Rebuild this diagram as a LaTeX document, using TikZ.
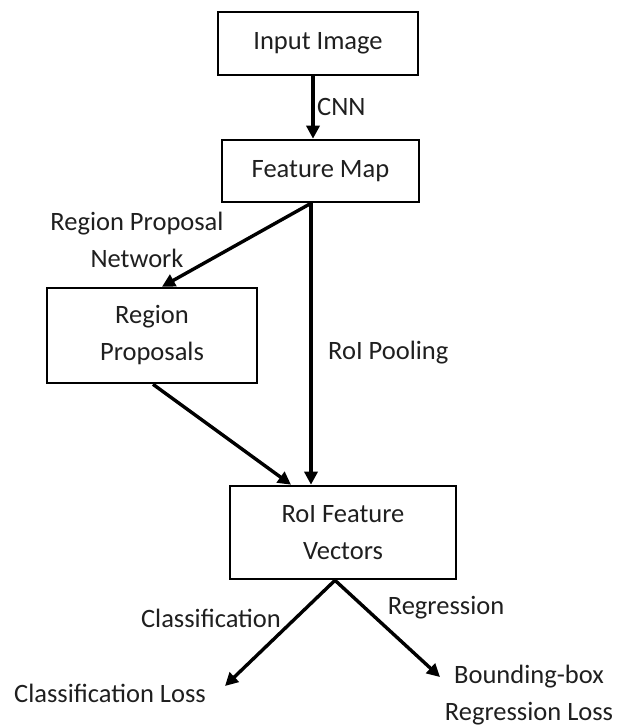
\documentclass[tikz,border=0pt]{standalone}
\usepackage{fontspec}
\setmainfont{Carlito}
\usetikzlibrary{arrows.meta}
\begin{document}
\begin{tikzpicture}[x=1pt,y=-1pt,
  box/.style={draw=black,line width=2.6pt,minimum width=#1,inner sep=0pt,align=center,font=\fontsize{26.5}{37}\selectfont,text=black!88},
  lbl/.style={inner sep=0pt,align=center,font=\fontsize{26.5}{37}\selectfont,text=black!88},
  arr/.style={line width=3.4pt,-{Triangle[length=13pt,width=13pt]}}]
\useasboundingbox (0,0) rectangle (617,726);
% boxes
\node[box=200pt,minimum height=63pt] (in) at (318,43.5) {Input Image};
\node[box=197pt,minimum height=62pt] (fm) at (320.5,171) {Feature Map};
\node[box=210pt,minimum height=95pt] (rp) at (152,335.5) {Region\\Proposals};
\node[box=226pt,minimum height=93pt] (roi) at (343,532.5) {RoI Feature\\Vectors};
% end texts
\node[lbl] (cls) at (110,693) {Classification Loss};
\node[lbl] (bb) at (529,695) {Bounding-box\\Regression Loss};
% helper coordinates
\coordinate (xa) at (313,0);
\coordinate (xv) at (311,0);
\coordinate (xr) at (162,0);
\coordinate (xs) at (153,0);
\coordinate (xt) at (291,0);
\coordinate (xo) at (335,0);
\coordinate (ce) at (225,686);
\coordinate (be) at (440,677);
% connectors
\draw[arr] (in.south -| xa) -- (fm.north -| xa);
\draw[arr] (fm.south -| xv) -- (rp.north -| xr);
\draw[arr] (fm.south -| xv) -- (roi.north -| xv);
\draw[arr] (rp.south -| xs) -- (roi.north -| xt);
\draw[arr] (roi.south -| xo) -- (ce);
\draw[arr] (roi.south -| xo) -- (be);
% labels
\node[lbl,anchor=west] (lcnn) at (317,107) {CNN};
\node[lbl] (lrpn) at (137,240) {Region Proposal\\Network};
\node[lbl,anchor=west] (lpool) at (328,353) {RoI Pooling};
\node[lbl] (lcls) at (211,618) {Classification};
\node[lbl] (lreg) at (446,608) {Regression};
\end{tikzpicture}
\end{document}
